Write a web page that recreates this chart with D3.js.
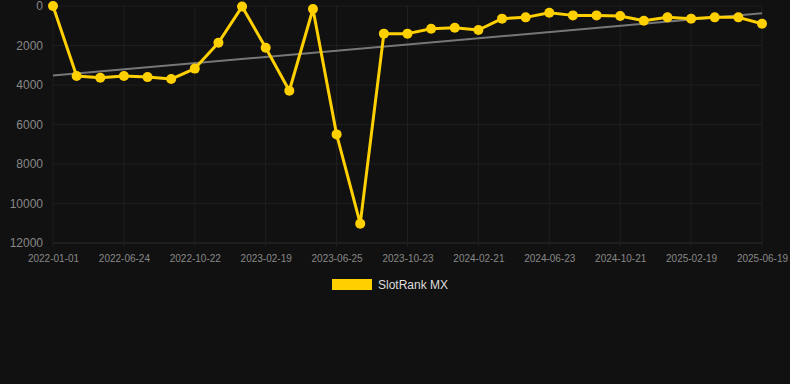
<!DOCTYPE html>
<html>
<head>
<meta charset="utf-8">
<script src="https://cdn.jsdelivr.net/npm/d3@7"></script>
<style>
  html, body { margin: 0; padding: 0; background: #111111; }
  svg { display: block; font-family: Arial, "Liberation Sans", sans-serif; }
</style>
</head>
<body>
<svg id="chart"></svg>
<script>
// categories (one per point), only every 3rd is labelled on the axis
let dates = [
  '2022-01-01', '2022-02-28', '2022-04-27', '2022-06-24', '2022-08-03', '2022-09-12',
  '2022-10-22', '2022-12-01', '2023-01-10', '2023-02-19', '2023-04-01', '2023-05-13',
  '2023-06-25', '2023-08-04', '2023-09-13', '2023-10-23', '2023-12-02', '2024-01-11',
  '2024-02-21', '2024-04-01', '2024-05-12', '2024-06-23', '2024-08-02', '2024-09-11',
  '2024-10-21', '2024-11-30', '2025-01-09', '2025-02-19', '2025-03-31', '2025-05-10',
  '2025-06-19'
];
let ranks = [
  0, 3540, 3630, 3540, 3600, 3700,
  3170, 1860, 30, 2110, 4290, 150,
  6500, 11020, 1400, 1400, 1150, 1100,
  1215, 640, 575, 340, 475, 475,
  505, 745, 575, 640, 575, 575,
  895
];
let yTicks = [0, 2000, 4000, 6000, 8000, 10000, 12000];
let seriesName = 'SlotRank MX';

let width = 790;
let height = 384;
let margin = { top: 6, right: 28, bottom: 141, left: 53 };

let svg = d3.select('#chart')
  .attr('width', width)
  .attr('height', height);

let xScale = d3.scalePoint()
  .domain(dates)
  .range([margin.left, width - margin.right]);

let yScale = d3.scaleLinear()
  .domain([0, 12000])
  .range([margin.top, height - margin.bottom]);

let labelled = dates.filter((d, i) => i % 3 === 0);

// grid
let grid = svg.append('g');
grid.selectAll('.hgrid')
  .data(yTicks)
  .enter()
  .append('line')
  .attr('x1', margin.left)
  .attr('x2', width - margin.right)
  .attr('y1', d => yScale(d))
  .attr('y2', d => yScale(d))
  .attr('stroke', d => d === 12000 ? '#2e2e2e' : '#1f1f1f')
  .attr('stroke-width', 1);

grid.selectAll('.vgrid')
  .data(labelled)
  .enter()
  .append('line')
  .attr('x1', d => xScale(d))
  .attr('x2', d => xScale(d))
  .attr('y1', margin.top)
  .attr('y2', height - margin.bottom + 4)
  .attr('stroke', '#1f1f1f')
  .attr('stroke-width', 1);

// axes
let yAxis = d3.axisLeft(yScale).tickValues(yTicks).tickFormat(d3.format('d')).tickSize(0).tickPadding(10);
let gy = svg.append('g')
  .attr('transform', `translate(${margin.left},0)`)
  .call(yAxis);
gy.select('.domain').remove();
gy.selectAll('text').attr('fill', '#888888').style('font-size', '12px');

let xAxis = d3.axisBottom(xScale).tickValues(labelled).tickSize(0).tickPadding(12);
let gx = svg.append('g')
  .attr('transform', `translate(0,${height - margin.bottom})`)
  .call(xAxis);
gx.select('.domain').remove();
gx.selectAll('text').attr('fill', '#888888').style('font-size', '10px');

// linear trend line (least squares over point index)
let n = ranks.length;
let meanX = (n - 1) / 2;
let meanY = d3.mean(ranks);
let sxy = d3.sum(ranks, (v, i) => (i - meanX) * (v - meanY));
let sxx = d3.sum(ranks, (v, i) => (i - meanX) * (i - meanX));
let slope = sxy / sxx;
let trend = [0, n - 1].map(i => [dates[i], meanY + slope * (i - meanX)]);

svg.append('path')
  .datum(trend)
  .attr('fill', 'none')
  .attr('stroke', '#777777')
  .attr('stroke-width', 2)
  .attr('d', d3.line().x(d => xScale(d[0])).y(d => yScale(d[1])));

// series
let values = dates.map((d, i) => [d, ranks[i]]);
let line = d3.line()
  .x(d => xScale(d[0]))
  .y(d => yScale(d[1]));

svg.append('path')
  .datum(values)
  .attr('fill', 'none')
  .attr('stroke', '#ffd000')
  .attr('stroke-width', 3)
  .attr('stroke-linejoin', 'round')
  .attr('d', line);

svg.selectAll('.dot')
  .data(values)
  .enter()
  .append('circle')
  .attr('cx', d => xScale(d[0]))
  .attr('cy', d => yScale(d[1]))
  .attr('r', 5)
  .attr('fill', '#ffd000');

// legend
let legend = svg.append('g').attr('transform', 'translate(332,279)');
legend.append('rect')
  .attr('width', 40)
  .attr('height', 11)
  .attr('fill', '#ffd000');
legend.append('text')
  .attr('x', 46)
  .attr('y', 10)
  .attr('fill', '#dddddd')
  .style('font-size', '12px')
  .text(seriesName);
</script>
</body>
</html>
